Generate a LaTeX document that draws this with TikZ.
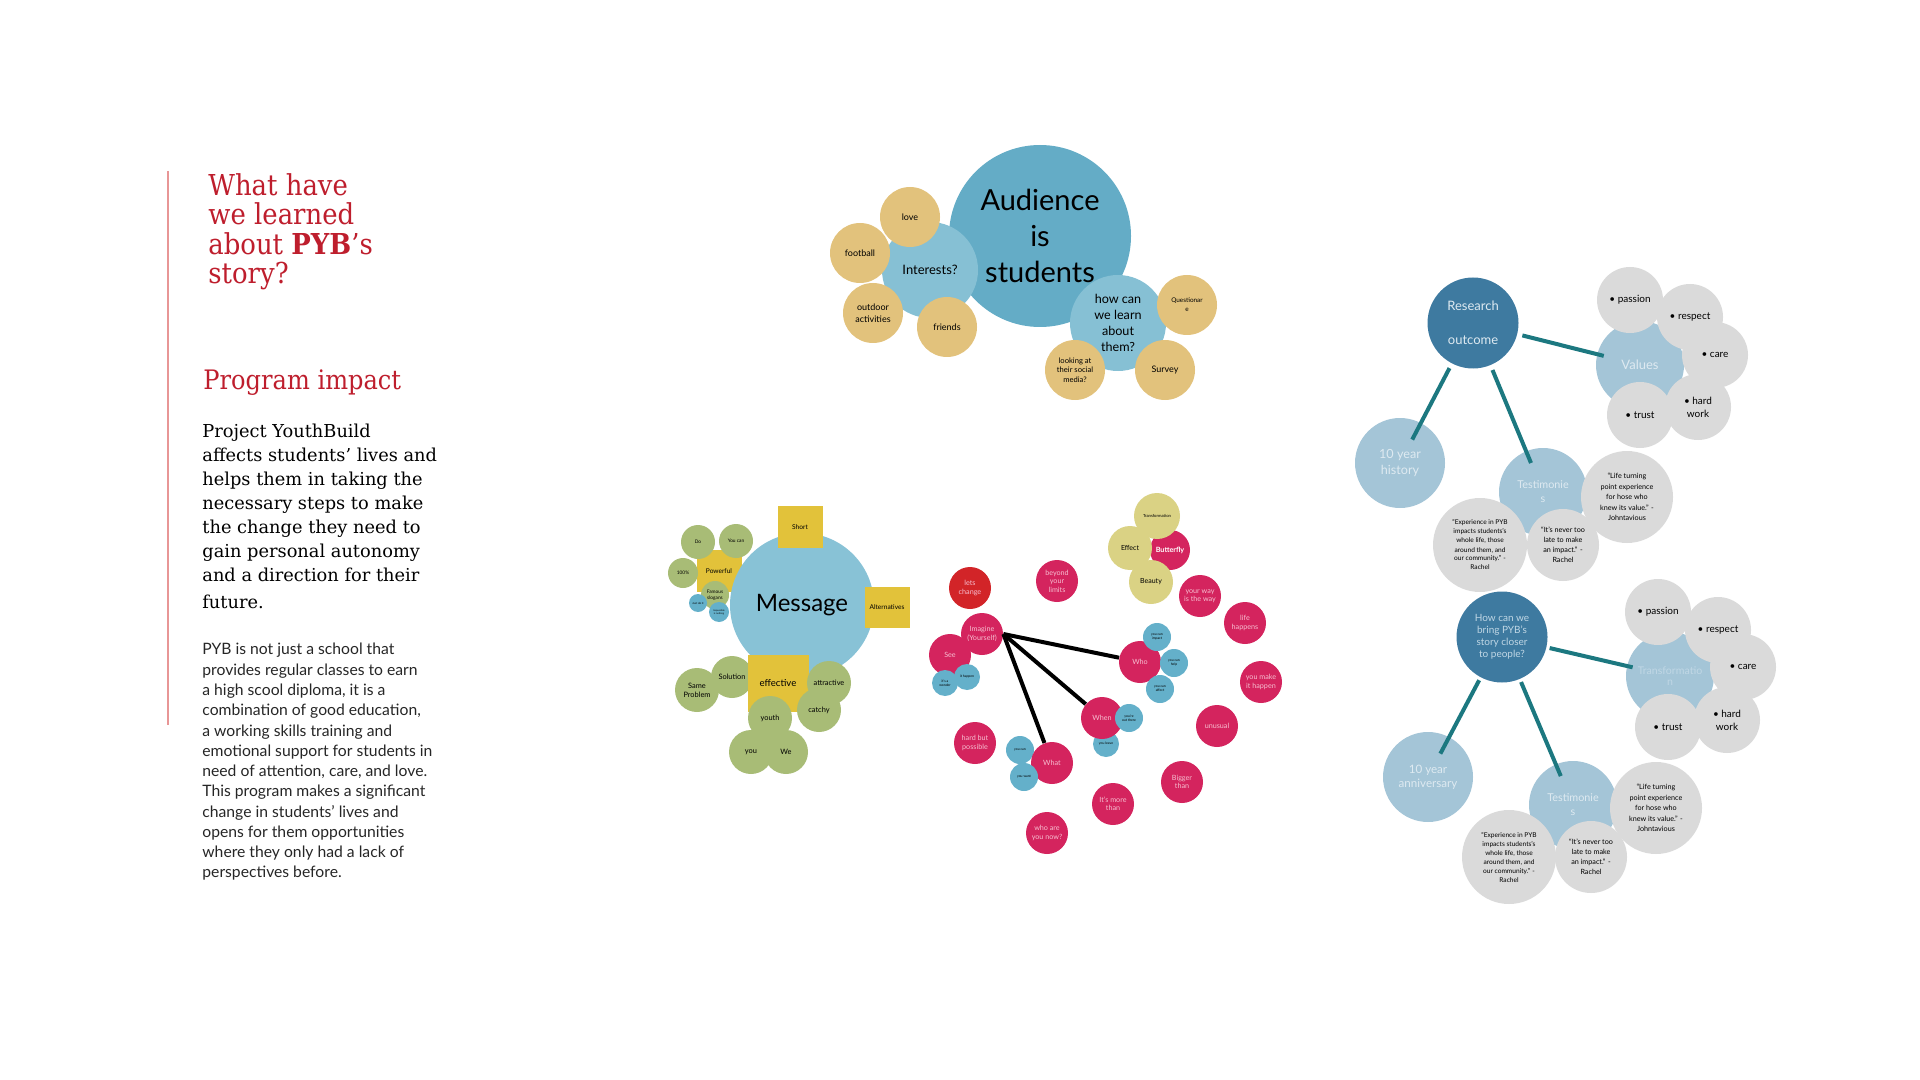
\documentclass[tikz,border=0pt]{standalone}
\usepackage{fontspec}
\setmainfont{Lato}
\newfontfamily\slab[FakeStretch=0.9]{DejaVu Serif}
\newfontfamily\slabwide{DejaVu Serif}
\newcommand{\fsz}[2]{\fontsize{#1}{#2}\selectfont}
\definecolor{titlered}{RGB}{190,30,45}
\definecolor{redline}{RGB}{232,150,150}
\definecolor{audblue}{RGB}{100,172,198}
\definecolor{askblue}{RGB}{134,192,212}
\definecolor{tancol}{RGB}{226,194,124}
\definecolor{msgblue}{RGB}{136,194,214}
\definecolor{sqyellow}{RGB}{226,194,58}
\definecolor{greencol}{RGB}{168,188,118}
\definecolor{dotblue}{RGB}{100,176,202}
\definecolor{pinkcol}{RGB}{212,36,94}
\definecolor{redcol}{RGB}{210,36,40}
\definecolor{khakicol}{RGB}{218,210,132}
\definecolor{pinktext}{RGB}{246,190,208}
\definecolor{darkblue}{RGB}{62,122,160}
\definecolor{lightblue}{RGB}{164,197,215}
\definecolor{paletext}{RGB}{222,234,241}
\definecolor{transtext}{RGB}{192,215,229}
\definecolor{graycol}{RGB}{218,218,218}
\definecolor{tealcol}{RGB}{28,120,128}

\begin{document}
\begin{tikzpicture}[x=0.5pt, y=-0.5pt,
  bubble/.style={circle, inner sep=0pt, minimum size=#1 pt, align=center},
  tanb/.style={bubble=30, fill=tancol, font=\fsz{4.5}{6}},
  askb/.style={bubble=48, fill=askblue},
  msgsq/.style={rectangle, fill=sqyellow, inner sep=0pt, minimum width=22.5pt, minimum height=21pt, font=\fsz{3.3}{4}},
  greenb/.style={bubble=#1, fill=greencol, font=\fsz{3.7}{4.6}}, greenb/.default=22,
  dotb/.style={bubble=#1, fill=dotblue, font=\fsz{1.7}{2.1}}, dotb/.default=14,
  pinkb/.style={bubble=#1, fill=pinkcol, text=pinktext, font=\fsz{3.6}{4.2}}, pinkb/.default=21,
  khakib/.style={bubble=#1, fill=khakicol, font=\fsz{3.5}{4.2}}, khakib/.default=22,
  darkb/.style={bubble=45.5, fill=darkblue, text=paletext},
  paleb/.style={bubble=#1, fill=lightblue, text=paletext, font=\fsz{6.5}{8}}, paleb/.default=44,
  grayb/.style={bubble=#1, fill=graycol, font=\fsz{5}{6.5}}, grayb/.default=33,
  tealline/.style={line width=2pt, draw=tealcol},
  blackline/.style={line width=2pt, draw=black}
]
\useasboundingbox (0,0) rectangle (1920,1080);

% ---- Left text column ----
\draw[redline, line width=0.6pt] (168,171) -- (168,725);
\node[anchor=north west, inner sep=0pt, align=left, text=titlered, font=\slab\fsz{14.4}{14.7}] (title) at (208,173)
  {What have\\we learned\\about \textbf{PYB}’s\\story?};
\node[anchor=north west, inner sep=0pt, text=titlered, font=\slab\fsz{13.4}{15}] (impact) at (203,369) {Program impact};
\node[anchor=north west, inner sep=0pt, align=left, font=\slabwide\fsz{8.9}{12}] (lead) at (202,424)
  {Project YouthBuild\\affects students’ lives and\\helps them in taking the\\necessary steps to make\\the change they need to\\gain personal autonomy\\and a direction for their\\[1.5pt]future.};
\node[anchor=north west, inner sep=0pt, align=left, text=black!85, font=\fsz{7.85}{10.13}] (body) at (202,643)
  {PYB is not just a school that\\provides regular classes to earn\\a high scool diploma, it is a\\combination of good education,\\a working skills training and\\emotional support for students in\\need of attention, care, and love.\\This program makes a significant\\change in students’ lives and\\opens for them opportunities\\where they only had a lack of\\perspectives before.};

% ---- Audience cluster ----
\node[bubble=91, fill=audblue, font=\fsz{14.5}{18}] (audience) at (1040,236) {Audience\\is\\students};
\node[askb, font=\fsz{6.5}{8}] (interests) at (930,270) {Interests?};
\node[askb, font=\fsz{6.3}{8}] (learn) at (1118,323) {how can\\we learn\\about\\them?};
\foreach \n/\x/\y/\txt in {love/910/217/love, football/860/253/football, outdoor/873/313/{outdoor\\activities},
    friends/947/327/friends, survey/1165/370/Survey}
  \node[tanb] (\n) at (\x,\y) {\txt};
\node[tanb, font=\fsz{3.2}{4.5}] (questionare) at (1187,305) {Questionar\\e};
\node[tanb, font=\fsz{3.8}{4.8}] (social) at (1075,370) {looking at\\their social\\media?};

% ---- Message cluster ----
\node[msgsq] (powerful) at (719,571) {Powerful};
\node[bubble=72, fill=msgblue, font=\fsz{12}{14}] (message) at (802,605) {Message};
\node[msgsq] (short) at (800,527) {Short};
\node[msgsq, minimum height=20.5pt] (alternatives) at (887,607) {Alternatives};
\node[greenb] (sameproblem) at (697,690) {Same\\Problem};
\node[greenb=21] (solution) at (732,677) {Solution};
\node[msgsq, minimum width=30.5pt, minimum height=28.5pt, font=\fsz{4.8}{6}] (effective) at (778,683) {effective};
\foreach \n/\x/\y/\txt in {attractive/829/683/attractive, catchy/819/710/catchy, youth/770/718/youth,
    you/751/752/you, we/786/752/We}
  \node[greenb] (\n) at (\x,\y) {\txt};
\foreach \n/\x/\y/\rad/\txt in {do/698/542/17/Do, youcan/736/541/17/You can, hundred/683/573/15/100\%,
    slogans/715/595/14/{Famous\\slogans}}
  \node[greenb=\rad, font=\fsz{2.4}{2.9}] (\n) at (\x,\y) {\txt};
\node[dotb=9, font=\fsz{1.4}{1.7}] (justdo) at (698,603) {Just do it};
\node[dotb=10, font=\fsz{1.2}{1.5}] (impossible) at (719,612) {Impossible\\is nothing};

% ---- Words cluster ----
\node[pinkb=20, text=white, font=\bfseries\fsz{3.6}{4.2}] (butterfly) at (1170,550) {Butterfly};
\node[khakib=23, font=\fsz{2.1}{2.5}] (transformation) at (1157,516) {Transformation};
\node[khakib] (effect) at (1130,548) {Effect};
\node[khakib] (beauty) at (1151,582) {Beauty};
\node[pinkb, fill=redcol] (letschange) at (970,588) {lets\\change};
\foreach \n/\x/\y/\txt in {beyond/1057/581/{beyond\\your\\limits}, yourway/1200/596/{your way\\is the way},
    lifehappens/1245/623/{life\\happens}, see/950/655/See, imagine/982/634/{Imagine\\(Yourself)},
    makeit/1261/682/{you make\\it happen}, unusual/1217/726/unusual, hardbut/975/743/{hard but\\possible},
    bigger/1182/782/{Bigger\\than}, morethan/1113/804/{It’s more\\than}, whoareyou/1047/833/{who are\\you now?}}
  \node[pinkb] (\n) at (\x,\y) {\txt};
\node[dotb=13] (wonder) at (945,683) {it’s a\\wonder};
\node[dotb=13] (ithappen) at (967,677) {it happen};
\node[pinkb] (who) at (1140,662) {Who};
\foreach \n/\x/\y/\txt in {canimpact/1157/637/{you can\\impact}, canhelp/1174/663/{you can\\help},
    canaffect/1160/689/{you can\\affect}}
  \node[dotb] (\n) at (\x,\y) {\txt};
\node[dotb=13] (leave) at (1106,744) {you leave};
\node[pinkb] (when) at (1102,718) {When};
\node[dotb] (outthere) at (1129,718) {you’re\\out there};
\node[dotb] (youcanb) at (1020,750) {you can};
\node[pinkb] (what) at (1052,763) {What};
\node[dotb] (youwant) at (1024,777) {you want};

\draw[blackline] (imagine.east) -- (who);
\draw[blackline] (imagine.east) -- (when);
\draw[blackline] (imagine.east) -- (what);

% ---- Research outcome ----
\node[paleb] (values) at (1640,365) {Values};
\foreach \n/\x/\y/\txt in {passion/1630/300/{• passion}, respect/1690/317/{• respect}, care/1715/355/{• care},
    hardwork/1698/407/{• hard\\work}, trust/1640/415/{• trust}}
  \node[grayb] (\n) at (\x,\y) {\txt};
\node[darkb, font=\fsz{6.5}{17}] (research) at (1473,323) {Research\\outcome};
\node[paleb=45, font=\fsz{6.3}{8.2}] (history) at (1400,463) {10 year\\history};
\node[paleb, font=\fsz{5.4}{7}] (testimonies) at (1543,492) {Testimonie\\s};
\node[grayb=46, font=\fsz{3.6}{5.2}] (lifeturn) at (1627,497)
  {“Life turning\\point experience\\for hose who\\knew its value.” -\\Johntavious};
\node[grayb=47, font=\fsz{3.3}{4.5}] (experience) at (1480,545)
  {“Experience in PYB\\impacts students’s\\whole life, those\\around them, and\\our community.” -\\Rachel};
\node[grayb=36, font=\fsz{3.6}{5}] (nevertoolate) at (1563,545) {“It’s never too\\late to make\\an impact.” -\\Rachel};

\draw[tealline, shorten <=2.5pt, shorten >=-3.5pt] (research) -- (values);
\draw[tealline, shorten <=2.5pt, shorten >=-9.5pt] (research) -- (history);
\draw[tealline, shorten <=2.5pt, shorten >=-6.5pt] (research) -- (testimonies);

% ---- Bringing the story closer ----
\node[paleb, text=transtext, font=\fsz{5.3}{5.5}] (transformationb) at (1670,676) {Transformatio\\n};
\foreach \n/\x/\y/\txt in {passionb/1658/612/{• passion}, respectb/1718/630/{• respect}, careb/1743/667/{• care},
    hardworkb/1727/720/{• hard\\work}, trustb/1668/727/{• trust}}
  \node[grayb] (\n) at (\x,\y) {\txt};
\node[darkb, text=transtext, font=\fsz{5}{6}] (howbring) at (1502,637) {How can we\\bring PYB’s\\story closer\\to people?};
\node[paleb=45, font=\fsz{5.8}{7}] (anniversary) at (1428,777) {10 year\\anniversary};
\node[paleb, font=\fsz{5.4}{7}] (testimoniesb) at (1573,805) {Testimonie\\s};
\node[grayb=46, font=\fsz{3.6}{5.2}] (lifeturnb) at (1656,808)
  {“Life turning\\point experience\\for hose who\\knew its value.” -\\Johntavious};
\node[grayb=47, font=\fsz{3.3}{4.5}] (experienceb) at (1509,857)
  {“Experience in PYB\\impacts students’s\\whole life, those\\around them, and\\our community.” -\\Rachel};
\node[grayb=36, font=\fsz{3.6}{5}] (nevertoolateb) at (1591,857) {“It’s never too\\late to make\\an impact.” -\\Rachel};

\draw[tealline, shorten <=1.5pt, shorten >=-3pt] (howbring) -- (transformationb);
\draw[tealline, shorten <=1.5pt, shorten >=-9.5pt] (howbring) -- (anniversary);
\draw[tealline, shorten <=1.5pt, shorten >=-6.5pt] (howbring) -- (testimoniesb);

\end{tikzpicture}
\end{document}
